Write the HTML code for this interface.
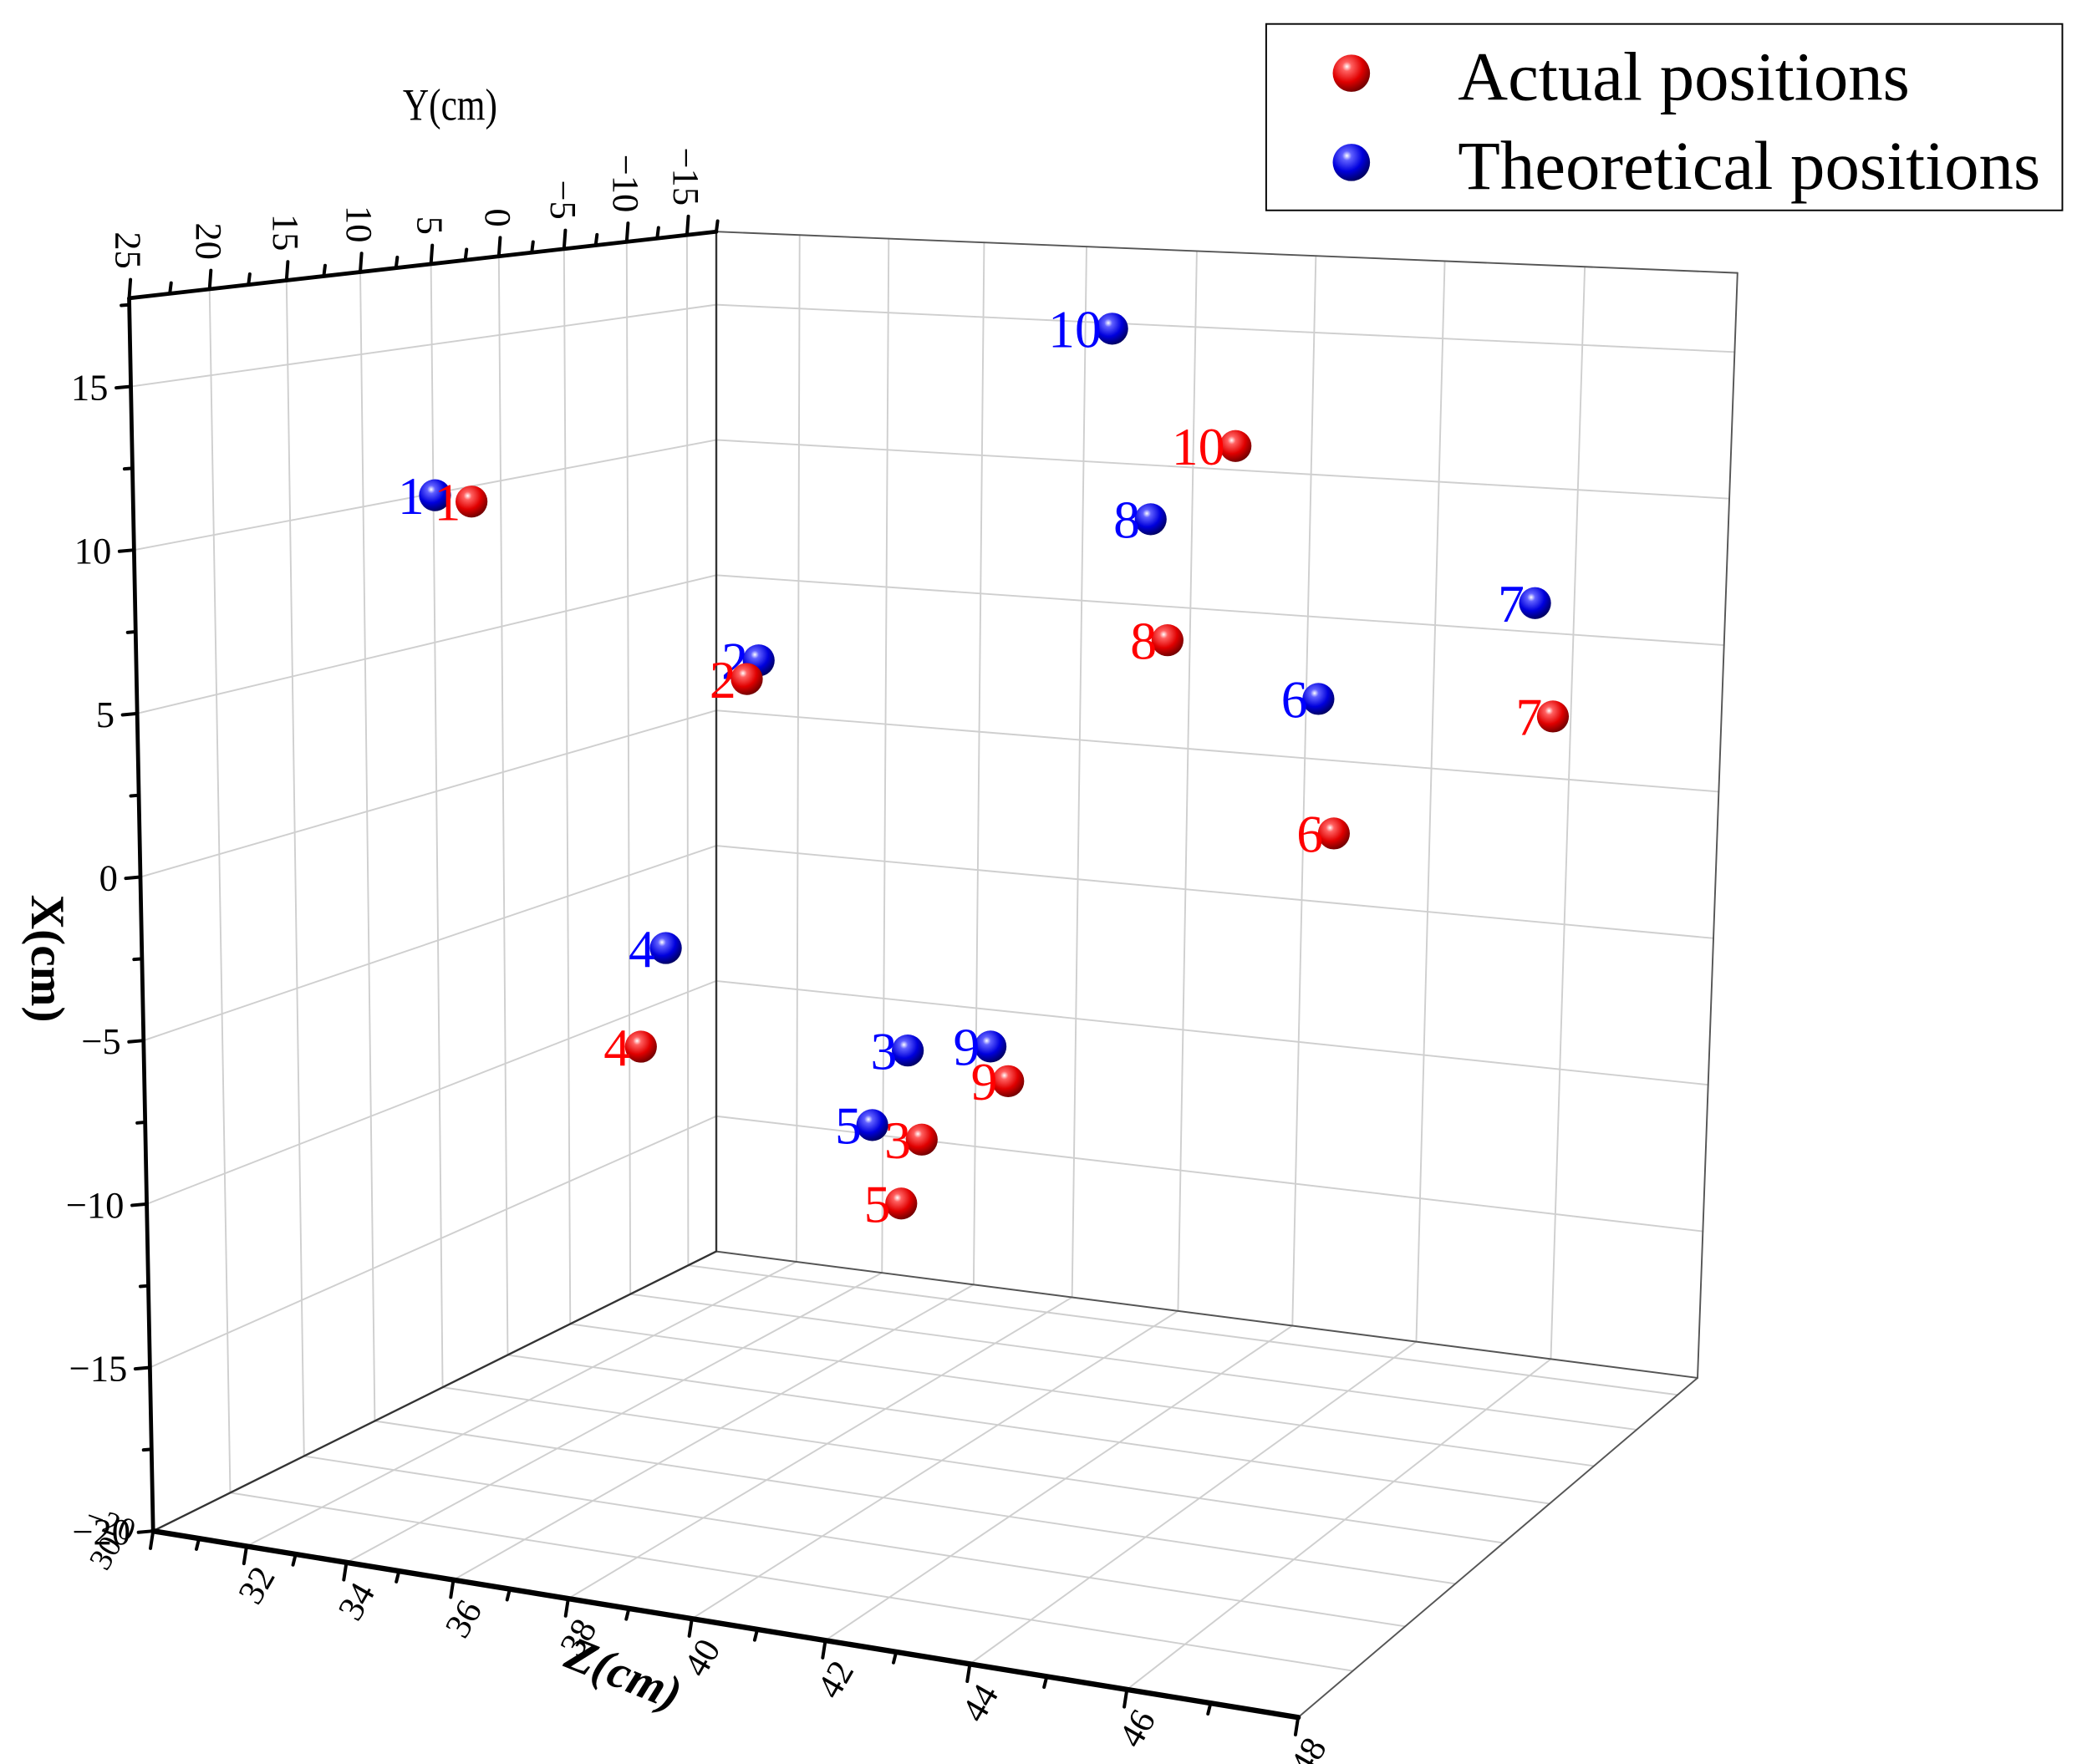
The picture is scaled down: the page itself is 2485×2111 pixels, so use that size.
<!DOCTYPE html>
<html><head><meta charset="utf-8"><style>
html,body{margin:0;padding:0;background:#fff;}
svg{display:block;}
text{font-family:"Liberation Serif",serif;}
</style></head><body>
<svg id="chart" width="2485" height="2111" viewBox="0 0 1560 1325" preserveAspectRatio="none" xmlns="http://www.w3.org/2000/svg">
<defs>
<radialGradient id="gRed" cx="0.38" cy="0.32" r="0.7">
<stop offset="0" stop-color="#fff"/><stop offset="0.18" stop-color="#ff6060"/><stop offset="0.6" stop-color="#e00000"/><stop offset="1" stop-color="#700000"/></radialGradient>
<radialGradient id="gBlue" cx="0.38" cy="0.32" r="0.7">
<stop offset="0" stop-color="#fff"/><stop offset="0.18" stop-color="#6060ff"/><stop offset="0.6" stop-color="#0000dd"/><stop offset="1" stop-color="#000060"/></radialGradient>
</defs>
<g id="grid"></g>
<g id="frame"></g>
<g id="axes"></g>
<g id="pts"></g>
<g>
<rect x="951" y="18" width="598" height="140" fill="#fff" stroke="#000" stroke-width="1.2"/>
<circle cx="1015" cy="55" r="14" fill="url(#gRed)"/>
<text x="1095" y="75" font-size="52">Actual positions</text>
<circle cx="1015" cy="122" r="14" fill="url(#gBlue)"/>
<text x="1095" y="142" font-size="52">Theoretical positions</text>
</g>
<text x="338" y="90" font-size="34" text-anchor="middle" transform="translate(338,0) scale(0.8,1) translate(-338,0)">Y(cm)</text>
<text x="0" y="0" font-size="36" font-weight="bold" text-anchor="middle" transform="translate(24,720) rotate(90)">X(cm)</text>
<text x="0" y="0" font-size="36" font-style="italic" font-weight="bold" text-anchor="middle" transform="translate(464,1268) rotate(22)">Z(cm)</text>
</svg>
<script>
// ---- data ----
const pointIds = ["1","2","3","4","5","6","7","8","9","10"];
const actualX = [9.48, 1.25, -14.98, -11.3, -17.39, -2.56, 2.13, 3.80, -12.51, 10.85];
const actualY = [2.2, -17.5, -17.5, -10.96, -17.5, -17.5, -17.5, -17.5, -17.5, -17.5];
const actualZ = [30, 30.76, 34.86, 30, 34.42, 42.5, 45.75, 39.6, 36.67, 40.73];
const theoX = [9.93, 1.97, -11.8, -8.09, -14.66, 2.12, 6.0, 8.07, -11.33, 14.8];
const theoY = [4.88, -17.5, -17.5, -13.1, -17.5, -17.5, -17.5, -17.5, -17.5, -17.5];
const theoZ = [30, 31.05, 34.54, 30, 33.76, 42.2, 45.45, 39.26, 36.3, 38.5];
const xTicks = [-20, -15, -10, -5, 0, 5, 10, 15];
const yTicks = [25, 20, 15, 10, 5, 0, -5, -10, -15];
const zTicks = [30, 32, 34, 36, 38, 40, 42, 44, 46, 48];
const xRange = [-20, 17.7], yRange = [25, -17.5], zRange = [30, 48];

// ---- projection ----
const NS = "http://www.w3.org/2000/svg";
const Bc = {a:[115,1150], b:[538,940], c:[1275,1035], d:[975,1290]};
const Tc = {a:[97,224], b:[538,174], c:[1305,205], d:[990,285]};
function uOf(y){const t=(yRange[0]-y)/(yRange[0]-yRange[1]);return 1.19*t/(1+0.19*t);}
function vOf(z){const s=(z-zRange[0])/(zRange[1]-zRange[0]);return 0.711*s/(1-0.289*s);}
function wOf(x){return (x-xRange[0])/(xRange[1]-xRange[0]);}
function bil(C,u,v){
  const k=i=>(1-u)*(1-v)*C.a[i]+u*(1-v)*C.b[i]+u*v*C.c[i]+(1-u)*v*C.d[i];
  return [k(0),k(1)];
}
function projUVW(u,v,w){const b=bil(Bc,u,v),t=bil(Tc,u,v);return [b[0]+(t[0]-b[0])*w,b[1]+(t[1]-b[1])*w];}
function P(x,y,z){return projUVW(uOf(y),vOf(z),wOf(x));}

function line(g,p,q,stroke,sw,name){
  const l=document.createElementNS(NS,"line");
  l.setAttribute("x1",p[0]);l.setAttribute("y1",p[1]);l.setAttribute("x2",q[0]);l.setAttribute("y2",q[1]);
  l.setAttribute("stroke",stroke);l.setAttribute("stroke-width",sw);l.setAttribute("stroke-linecap","round");
  
  
  g.appendChild(l);return l;
}
function text(g,x,y,s,size,fill,anchor,tr,name){
  const t=document.createElementNS(NS,"text");
  t.setAttribute("x",x);t.setAttribute("y",y);t.setAttribute("font-size",size);
  t.setAttribute("fill",fill);t.setAttribute("text-anchor",anchor);
  if(tr)t.setAttribute("transform",tr);
  t.textContent=s;
  
  
  g.appendChild(t);return t;
}
const grid=document.getElementById("grid"),frame=document.getElementById("frame"),axes=document.getElementById("axes"),pts=document.getElementById("pts");
const gc="#cfcfcf";
const yb=yRange[1], yf=yRange[0], zf=zRange[0], zb=zRange[1], xb=xRange[0], xt=xRange[1];
xTicks.slice(1).forEach(x=>line(grid,P(x,yb,zf),P(x,yb,zb),gc,1.2,"back-wall-x-gridline"));
zTicks.slice(1,-1).forEach(z=>line(grid,P(xb,yb,z),P(xt,yb,z),gc,1.2,"back-wall-z-gridline"));
xTicks.slice(1).forEach(x=>line(grid,P(x,yf,zf),P(x,yb,zf),gc,1.2,"left-wall-x-gridline"));
yTicks.slice(1).forEach(y=>line(grid,P(xb,y,zf),P(xt,y,zf),gc,1.2,"left-wall-y-gridline"));
yTicks.slice(1).forEach(y=>line(grid,P(xb,y,zf),P(xb,y,zb),gc,1.2,"floor-y-gridline"));
zTicks.slice(1,-1).forEach(z=>line(grid,P(xb,yf,z),P(xb,yb,z),gc,1.2,"floor-z-gridline"));
const fc="#555";
line(frame,P(xb,yb,zf),P(xt,yb,zf),"#333",1.5,"back-left-edge");
line(frame,P(xt,yb,zf),P(xt,yb,zb),fc,1.2,"back-top-edge");
line(frame,P(xt,yb,zb),P(xb,yb,zb),fc,1.2,"back-right-edge");
line(frame,P(xb,yb,zf),P(xb,yb,zb),fc,1.2,"floor-back-edge");
line(frame,P(xb,yf,zb),P(xb,yb,zb),fc,1.2,"floor-right-edge");
line(frame,P(xb,yf,zf),P(xb,yb,zf),"#333",1.5,"floor-left-edge");
line(axes,P(xb,yf,zf),P(xt,yf,zf),"#000",3,"x-axis-line");
line(axes,P(xt,yf,zf),P(xt,yb,zf),"#000",3,"y-axis-line");
line(axes,P(xb,yf,zf),P(xb,yf,zb),"#000",4,"z-axis-line");
for(let x=-20;x<=17.5;x+=2.5){
  const p=P(x,yf,zf),maj=(x%5===0);
  line(axes,p,[p[0]-(maj?11:6),p[1]+(maj?1:0.5)],"#000",2.5,"x-tick");
}
xTicks.forEach(x=>{const p=P(x,yf,zf);text(axes,p[0]-17,p[1]+10,x<0?"\u2212"+(-x):String(x),28,"#000","end",null,"x-tick-label");});
for(let y=25;y>=-17.5;y-=2.5){
  const p=P(xt,y,zf),maj=(y%5===0);
  line(axes,p,[p[0]+1,p[1]-(maj?14:8)],"#000",2.5,"y-tick");
}
yTicks.forEach(y=>{const p=P(xt,y,zf);const s=y<0?"\u2212"+(-y):String(y);
  text(axes,0,0,s,28,"#000","end","translate("+(p[0]-10)+","+(p[1]-22)+") rotate(90)","y-tick-label");});
for(let z=30;z<=48;z+=1){
  const p=P(xb,yf,z),maj=(z%2===0);
  line(axes,p,[p[0]-2,p[1]+(maj?13:8)],"#000",2.5,"z-tick");
}
zTicks.slice(1).forEach(z=>{const p=P(xb,yf,z);
  text(axes,0,0,String(z),27,"#000","end","translate("+(p[0]+22)+","+(p[1]+22)+") rotate(-60)","z-tick-label");});
text(axes,0,0,"30",24,"#000","end","translate(92,1160) rotate(-60)","z-tick-label");
text(axes,0,0,"\u221220",24,"#000","end","translate(98,1158) rotate(20)","x-tick-label-bottom");
function ball(x,y,z,id,grad,color,name){
  const p=P(x,y,z);
  const c=document.createElementNS(NS,"circle");
  c.setAttribute("cx",p[0]);c.setAttribute("cy",p[1]);c.setAttribute("r",12);c.setAttribute("fill","url(#"+grad+")");
  
  
  pts.appendChild(c);
  text(pts,p[0]-8,p[1]+14,id,40,color,"end",null,name+"-label");
}
pointIds.forEach((id,i)=>ball(theoX[i],theoY[i],theoZ[i],id,"gBlue","#0000ff","theoretical-point-"+id));
pointIds.forEach((id,i)=>ball(actualX[i],actualY[i],actualZ[i],id,"gRed","#ff0000","actual-point-"+id));
</script>
</body></html>
